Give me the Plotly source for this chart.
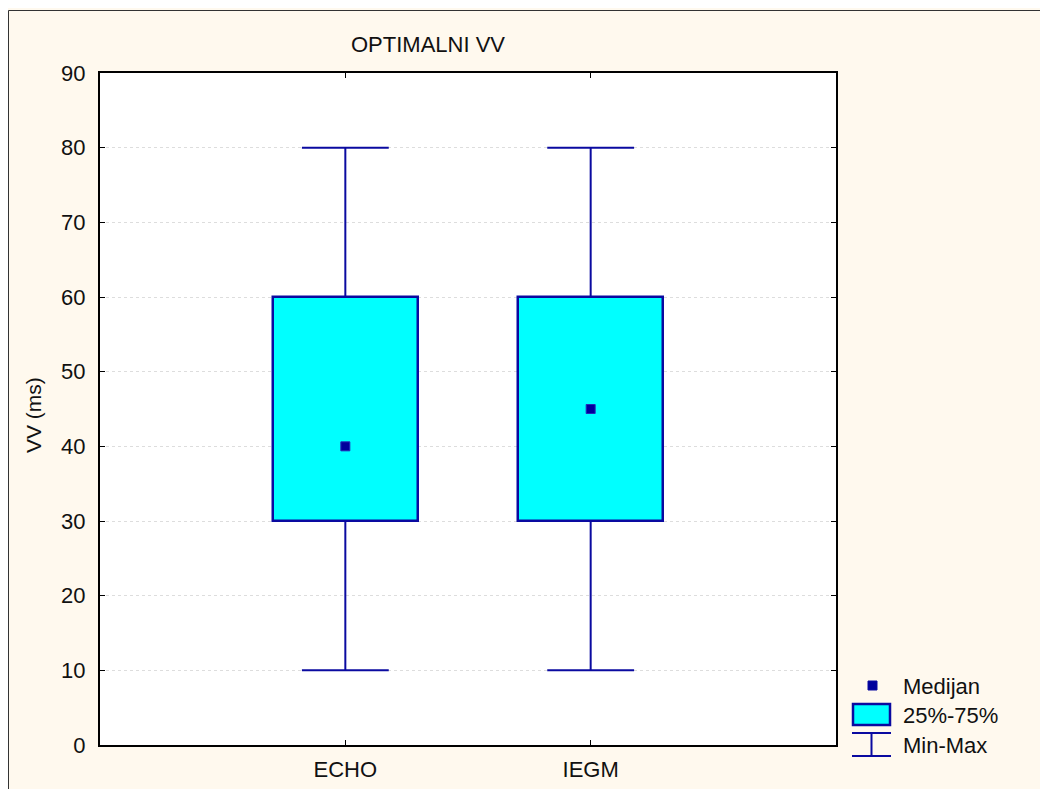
import plotly.graph_objects as go

categories = ["ECHO", "IEGM"]
minimum = [10, 10]
q1 = [30, 30]
median = [40, 45]
q3 = [60, 60]
maximum = [80, 80]
y_ticks = [0, 10, 20, 30, 40, 50, 60, 70, 80, 90]

NAVY = "#0A0AA0"
CYAN = "#00FFFF"
BG = "#FFF9EE"
TXT = "#111111"
FS = 22

xpos = [i + 1 for i in range(len(categories))]
box_w = 0.591
cap_half = 0.177

fig = go.Figure()

# Boxes (25%-75%)
fig.add_trace(go.Bar(
    x=xpos, y=[b - a for a, b in zip(q1, q3)], base=q1, width=box_w,
    marker=dict(color=CYAN, line=dict(color=NAVY, width=2.5)),
    showlegend=False, hoverinfo="skip"))

# Whiskers with caps (Min-Max)
wx, wy = [], []
for x, lo, a, b, hi in zip(xpos, minimum, q1, q3, maximum):
    wx += [x, x, None, x, x, None, x - cap_half, x + cap_half, None, x - cap_half, x + cap_half, None]
    wy += [lo, a, None, b, hi, None, lo, lo, None, hi, hi, None]
fig.add_trace(go.Scatter(x=wx, y=wy, mode="lines", line=dict(color=NAVY, width=2),
                         showlegend=False, hoverinfo="skip"))

# Median
fig.add_trace(go.Scatter(x=xpos, y=median, mode="markers",
                         marker=dict(symbol="square", size=9, color="#00009C",
                                     line=dict(color="#2828B8", width=1)),
                         showlegend=False))

# Page is offset by an 8px margin at left/top; figure fills the rest of the window
OFF = 8
W, H = 1040 - OFF, 789 - OFF
PL, PR, PT, PB = 100, 836, 73, 745      # plot area in page pixels
L, R, T, B = PL - OFF, 1040 - PR, PT - OFF, 789 - PB
pw, ph = PR - PL, PB - PT


def px(x):
    return (x - PL) / pw


def py(y):
    return (PB - y) / ph


shapes = []
# outer figure border
shapes.append(dict(type="rect", xref="paper", yref="paper",
                   x0=px(8.5), x1=px(1200), y0=py(900), y1=py(10.5),
                   line=dict(color="#333333", width=1), fillcolor="rgba(0,0,0,0)", layer="below"))
# legend: median marker
shapes.append(dict(type="rect", xref="paper", yref="paper",
                   x0=px(868), x1=px(877), y0=py(690), y1=py(681),
                   line=dict(color=NAVY, width=1), fillcolor="#00009C"))
# legend: box
shapes.append(dict(type="rect", xref="paper", yref="paper",
                   x0=px(853), x1=px(890), y0=py(725), y1=py(704),
                   line=dict(color=NAVY, width=2.5), fillcolor=CYAN))
# legend: min-max
shapes.append(dict(type="line", xref="paper", yref="paper",
                   x0=px(852), x1=px(891), y0=py(733), y1=py(733),
                   line=dict(color=NAVY, width=2)))
shapes.append(dict(type="line", xref="paper", yref="paper",
                   x0=px(852), x1=px(891), y0=py(756), y1=py(756),
                   line=dict(color=NAVY, width=2)))
shapes.append(dict(type="line", xref="paper", yref="paper",
                   x0=px(871.5), x1=px(871.5), y0=py(733), y1=py(756),
                   line=dict(color=NAVY, width=2)))

annotations = []
for label, yc in [("Medijan", 686), ("25%-75%", 715), ("Min-Max", 745)]:
    annotations.append(dict(text=label, xref="paper", yref="paper",
                            x=px(901), y=py(yc), xanchor="left", yanchor="middle",
                            showarrow=False, font=dict(size=FS, color=TXT)))
annotations.append(dict(text="OPTIMALNI VV", xref="paper", yref="paper",
                        x=px(428), y=py(44), xanchor="center", yanchor="middle",
                        showarrow=False, font=dict(size=FS, color=TXT)))
annotations.append(dict(text="VV (ms)", xref="paper", yref="paper", textangle=-90,
                        x=px(33), y=py(415), xanchor="center", yanchor="middle",
                        showarrow=False, font=dict(size=21, color=TXT)))

fig.update_layout(
    width=W, height=H,
    margin=dict(l=L, r=R, t=T, b=B, pad=0, autoexpand=False),
    paper_bgcolor=BG, plot_bgcolor="white",
    font=dict(family="Liberation Sans, Arial, sans-serif", color=TXT),
    shapes=shapes, annotations=annotations,
    showlegend=False,
    bargap=0,
)
fig.update_xaxes(range=[0, 3], tickvals=xpos, ticktext=categories,
                 showgrid=False, zeroline=False, automargin=False,
                 showline=True, linecolor="black", linewidth=2, mirror="ticks",
                 ticks="inside", ticklen=5, tickcolor="black", tickwidth=1,
                 tickfont=dict(size=FS), ticklabelstandoff=4)
fig.update_yaxes(range=[0, 90], tickvals=y_ticks,
                 showgrid=True, gridcolor="#DDDDDD", griddash="dot", gridwidth=1,
                 zeroline=False, automargin=False,
                 showline=True, linecolor="black", linewidth=2, mirror="ticks",
                 ticks="inside", ticklen=5, tickcolor="black", tickwidth=1,
                 tickfont=dict(size=FS), ticklabelstandoff=8)

fig.write_html(
    "out.html",
    post_script=(
        "var d=document.getElementById('{plot_id}');"
        "d.style.position='fixed';d.style.left='8px';d.style.top='8px';"
        "document.body.style.margin='0';"
        "document.body.style.overflow='hidden';"
        "document.documentElement.style.overflow='hidden';"
    ))
